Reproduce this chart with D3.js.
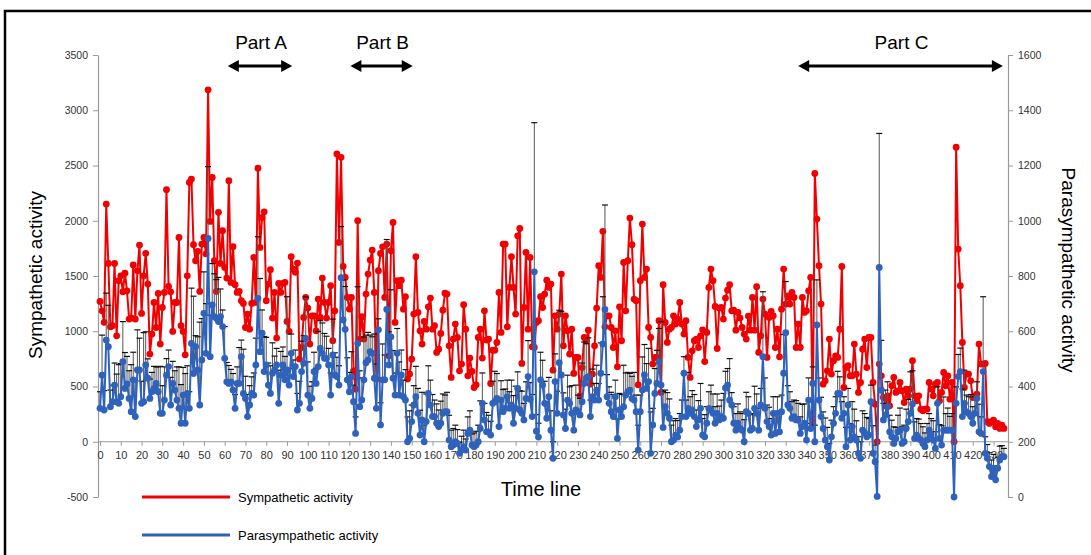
<!DOCTYPE html>
<html>
<head>
<meta charset="utf-8">
<script src="https://cdnjs.cloudflare.com/ajax/libs/d3/7.8.5/d3.min.js"></script>
<style>
body { margin: 0; background: #fff; }
text { font-family: "Liberation Sans", Arial, Helvetica, sans-serif; }
</style>
</head>
<body>
<div id="chartcontainer"></div>
<script>
// Width and height of the page
var width = 1091;
var height = 555;

// Sympathetic activity (left axis), one value per time step
var sympathetic = [
	1270,1185,1081,2151,1614,1040,1050,1614,959,1457,
	1502,1357,1526,1366,1110,1120,1600,1110,1547,1780,
	1161,1502,1705,1427,793,974,1260,1034,1342,884,
	1215,1351,2281,1406,1357,998,1260,1260,1849,1050,
	998,787,1502,2347,2377,1783,1638,1723,1360,1789,
	1849,1700,3185,1994,2392,1638,1360,2076,1614,1910,
	1578,1481,2362,1442,1765,1421,1351,1360,1276,1252,
	1034,1155,
	1019,1252,1668,1261,2476,1759,2030,2081,1276,1427,
	1557,1119,1351,938,1433,1351,1433,1442,1089,998,
	1674,1563,1533,1617,748,853,1125,1306,1210,884,
	1140,1140,1004,1291,1125,1481,1261,1119,1261,1412,
	914,1185,2604,1804,2574,1587,1487,1306,1201,1306,
	642,476,2000,929,1131,929,1336,1517,1644,1735,
	1351,567,1548,1704,1764,1306,1789,778,1729,1985,
	1080,1457,
	1412,1462,1200,1312,567,612,748,1155,1674,1170,
	1004,884,1089,1019,1221,1300,1019,1050,808,838,
	980,1191,1345,1336,868,582,929,1065,944,642,
	703,1240,1019,597,757,636,491,515,944,1019,
	757,1185,920,929,527,829,829,899,1351,989,
	1789,1789,1040,1397,1674,1397,1155,1864,1930,709,
	1215,1713,1019,1668,859,853,1080,1095,1312,1215,
	1336,1462,1397,
	1427,648,1140,1019,1155,1517,868,1140,1004,793,
	1019,618,763,763,416,672,944,914,1010,521,
	612,868,1210,1593,1487,1904,1040,1140,1140,1034,
	853,1004,678,1221,914,1623,1185,1638,2024,1783,
	1291,1276,515,1457,1970,1487,1563,1034,944,703,
	763,763,1095,446,1421,1080,899,1019,1034,1140,
	1065,1110,1261,1065,974,1095,763,582,823,914,
	929,853,
	959,1013,726,989,1397,1563,1457,1225,844,1210,
	1215,1110,1300,1372,1421,1185,1191,1010,1170,1119,
	1034,974,929,1137,1010,1306,1010,1403,808,959,
	1291,1155,763,1125,1179,1140,853,1019,769,1200,
	1563,1246,1321,1246,1351,1306,853,1065,853,1306,
	1170,1185,1366,1487,160,2428,2015,1593,1246,521,
	551,642,929,612,733,778,763,1019,1587,491,
	672,688,
	597,597,884,612,446,536,838,929,672,944,
	944,536,340,0,703,597,400,325,416,325,
	506,582,446,461,536,461,355,476,416,476,
	733,416,370,416,295,280,295,295,536,476,
	416,521,536,370,446,627,506,597,385,536,
	0,2665,1744,1412,899,491,612,612,551,400,
	416,431,884,703,703,709,181,166,181,196,
	136,166,121,151,121
];

// Parasympathetic activity (right axis)
var parasympathetic = [
	321,441,315,568,544,327,345,405,345,339,
	363,490,393,409,357,309,424,291,460,460,
	339,345,478,430,357,381,393,411,381,303,
	303,351,441,472,333,411,387,351,321,267,
	369,267,375,321,556,447,544,460,333,496,
	665,520,936,508,695,653,647,635,653,617,
	502,417,411,417,387,321,411,411,508,375,
	357,291,
	333,375,369,478,719,526,593,454,478,405,
	375,448,460,478,339,442,478,424,460,405,
	520,436,472,315,339,454,484,574,369,321,
	357,454,411,472,538,520,502,502,478,369,
	514,442,436,405,794,641,607,424,381,436,
	345,230,556,327,351,424,486,496,526,520,
	430,321,605,261,424,424,679,478,580,430,
	369,520,
	369,442,363,351,200,212,273,333,363,303,
	224,279,200,273,375,333,291,291,267,255,
	267,303,309,309,206,182,188,200,194,158,
	170,182,170,230,242,188,182,188,200,248,
	339,279,236,236,224,339,345,357,255,351,
	309,321,363,321,333,267,321,393,315,303,
	279,357,436,354,291,815,238,217,424,405,
	339,285,363,
	242,140,418,303,486,442,297,248,351,339,
	303,242,315,309,297,345,411,430,436,291,
	363,351,387,351,448,554,679,363,339,309,
	291,363,212,315,291,327,369,381,387,357,
	351,309,170,309,387,442,393,418,158,261,
	375,411,490,405,252,327,303,285,200,206,
	224,217,242,291,448,291,321,303,315,291,
	255,279,
	321,224,218,267,321,315,303,267,303,279,
	291,285,395,405,351,333,267,242,267,248,
	242,200,309,303,242,248,321,303,242,333,
	508,321,273,255,224,303,230,303,236,309,
	448,595,333,321,285,291,279,279,230,255,
	267,206,351,248,411,200,623,351,291,248,
	206,182,134,218,267,303,375,375,285,303,
	182,333,
	206,255,218,206,158,140,242,232,218,224,
	345,158,128,2,831,387,279,297,327,236,
	218,194,212,236,242,194,200,248,273,303,
	337,212,224,212,206,194,182,206,242,224,
	206,176,339,212,188,242,242,242,242,242,
	0,339,436,454,291,339,309,303,291,267,
	303,357,236,230,454,158,140,110,74,104,
	62,104,134,146,146
];

// upper error of the parasympathetic values
var paraError = [
	60,145,70,170,150,60,60,80,100,140,
	120,145,130,100,100,170,100,130,145,115,
	80,250,120,70,70,70,80,60,90,170,
	100,120,60,60,100,80,70,120,150,140,
	100,180,100,60,200,280,40,120,300,150,
	150,180,260,150,150,155,140,160,100,60,
	115,70,65,45,60,50,60,130,60,160,
	80,80,
	70,60,80,97,223,265,84,127,100,80,
	100,110,50,60,120,85,65,85,265,60,
	70,60,60,60,80,110,100,150,120,80,
	60,70,55,127,100,110,90,80,60,80,
	130,80,70,70,185,145,155,80,70,90,
	60,60,205,130,80,155,100,100,60,60,
	160,160,40,80,130,90,253,120,170,100,
	80,90,
	120,90,60,110,90,100,60,70,110,90,
	90,100,60,100,100,90,80,60,70,60,
	80,70,60,70,90,60,60,60,50,40,
	50,60,40,60,70,40,50,50,60,100,
	110,60,70,60,50,80,110,90,100,70,
	80,70,60,60,90,100,80,60,70,80,
	60,60,130,60,80,540,60,50,100,90,
	80,60,70,
	70,60,100,80,190,230,80,70,90,60,
	100,70,90,60,60,140,150,125,140,60,
	100,60,90,60,110,171,378,80,60,70,
	80,60,70,60,80,150,80,70,60,80,
	100,60,90,60,120,110,90,120,150,60,
	90,120,120,230,130,60,75,70,60,70,
	60,60,60,60,60,60,130,60,70,80,
	60,70,
	90,60,80,60,60,90,70,60,70,50,
	60,90,60,60,150,45,60,60,70,60,
	60,80,70,60,60,50,80,70,80,60,
	235,110,60,70,60,60,80,60,70,60,
	140,185,70,60,60,60,70,60,60,80,
	70,60,80,60,60,60,163,80,70,60,
	80,70,60,60,60,60,80,60,60,60,
	70,60,
	60,90,100,70,60,60,70,70,70,60,
	60,100,60,0,485,180,60,90,90,60,
	60,60,40,60,80,60,60,70,80,150,
	120,60,60,70,60,60,50,60,60,60,
	70,60,60,50,70,120,60,80,50,60,
	0,60,80,85,100,120,60,60,80,60,
	60,60,100,60,271,60,50,50,60,50,
	50,40,50,40,30
];

var leftTicks = [-500, 0, 500, 1000, 1500, 2000, 2500, 3000, 3500];
var rightTicks = [0, 200, 400, 600, 800, 1000, 1200, 1400, 1600];
var timeTicks = d3.range(0, 431, 10);

// the three marked parts of the time line
var partLabels = ["Part A", "Part B", "Part C"];
var partStart = [61.5, 120.5, 336];
var partEnd = [92.5, 150.5, 434.5];

var redColor = "#f00000";
var blueColor = "#2f62bb";

var x = d3.scaleLinear()
			.domain([0, 436])
			.range([100, 1006]);

var yLeft = d3.scaleLinear()
			.domain([-500, 3500])
			.range([497, 55]);

var yRight = d3.scaleLinear()
			.domain([0, 1600])
			.range([497, 55]);

// plain numbers, no thousands separator
var plain = (d) => String(d);

const svg = d3.select("#chartcontainer")
			.append("svg")
			.attr("width", width)
			.attr("height", height);

svg.append("rect")
	.attr("width", width)
	.attr("height", height)
	.attr("fill", "#fff");

// frame around the figure
svg.append("path")
	.attr("d", "M5," + height + "V11H" + width)
	.attr("fill", "none")
	.attr("stroke", "#000")
	.attr("stroke-width", 2.5);

// left axis
var leftAxis = svg.append("g")
	.attr("transform", "translate(98,0)")
	.call(d3.axisLeft(yLeft).tickValues(leftTicks).tickFormat(plain).tickSize(5).tickPadding(5).tickSizeOuter(0));

// right axis
var rightAxis = svg.append("g")
	.attr("transform", "translate(1008,0)")
	.call(d3.axisRight(yRight).tickValues(rightTicks).tickFormat(plain).tickSize(5).tickPadding(5).tickSizeOuter(0));

// time axis, sits on sympathetic 0
var timeAxis = svg.append("g")
	.attr("transform", "translate(0," + yLeft(0) + ")")
	.call(d3.axisBottom(x).tickValues(timeTicks).tickFormat(plain).tickSize(4).tickPadding(5).tickSizeOuter(0));

timeAxis.select(".domain").attr("d", "M98,0H1008");

[leftAxis, rightAxis, timeAxis].forEach(function(a) {
	a.select(".domain").attr("stroke", "#9a9a9a").attr("stroke-width", 1.2);
	a.selectAll(".tick line").attr("stroke", "#9a9a9a");
	a.selectAll(".tick text")
		.attr("fill", "#333")
		.style("font-size", "10.5px");
});
timeAxis.selectAll(".tick text").style("font-size", "11px");

// sympathetic series
var redLine = d3.line()
	.x((d, i) => x(i))
	.y((d) => yLeft(d));

svg.append("path")
	.datum(sympathetic)
	.attr("d", redLine)
	.attr("fill", "none")
	.attr("stroke", redColor)
	.attr("stroke-width", 2);

svg.append("g")
	.selectAll("circle")
	.data(sympathetic)
	.enter()
	.append("circle")
	.attr("cx", (d, i) => x(i))
	.attr("cy", (d) => yLeft(d))
	.attr("r", 3.4)
	.style("fill", redColor);

// error bars of the parasympathetic series
var bars = svg.append("g");

bars.selectAll("line.bar")
	.data(parasympathetic)
	.enter()
	.append("line")
	.attr("class", "bar")
	.attr("x1", (d, i) => x(i))
	.attr("x2", (d, i) => x(i))
	.attr("y1", (d) => yRight(d))
	.attr("y2", (d, i) => yRight(d + paraError[i]))
	.attr("stroke", "#555")
	.attr("stroke-width", 1);

bars.selectAll("line.cap")
	.data(parasympathetic)
	.enter()
	.append("line")
	.attr("class", "cap")
	.attr("x1", (d, i) => x(i) - 3)
	.attr("x2", (d, i) => x(i) + 3)
	.attr("y1", (d, i) => yRight(d + paraError[i]))
	.attr("y2", (d, i) => yRight(d + paraError[i]))
	.attr("stroke", (d, i) => paraError[i] > 0 ? "#111" : "none")
	.attr("stroke-width", 1.2);

// parasympathetic series
var blueLine = d3.line()
	.x((d, i) => x(i))
	.y((d) => yRight(d));

svg.append("path")
	.datum(parasympathetic)
	.attr("d", blueLine)
	.attr("fill", "none")
	.attr("stroke", blueColor)
	.attr("stroke-width", 2);

svg.append("g")
	.selectAll("circle")
	.data(parasympathetic)
	.enter()
	.append("circle")
	.attr("cx", (d, i) => x(i))
	.attr("cy", (d) => yRight(d))
	.attr("r", 3.4)
	.style("fill", blueColor);

// Part A / B / C arrows
var arrowY = 66;
partLabels.forEach(function(label, k) {
	var x0 = x(partStart[k]);
	var x1 = x(partEnd[k]);
	svg.append("line")
		.attr("x1", x0 + 6)
		.attr("x2", x1 - 6)
		.attr("y1", arrowY)
		.attr("y2", arrowY)
		.attr("stroke", "#000")
		.attr("stroke-width", 3);
	svg.append("path")
		.attr("d", "M" + x0 + "," + arrowY + "l11,-6v12z")
		.attr("fill", "#000");
	svg.append("path")
		.attr("d", "M" + x1 + "," + arrowY + "l-11,-6v12z")
		.attr("fill", "#000");
	svg.append("text")
		.attr("x", (x0 + x1) / 2 + 1)
		.attr("y", 49)
		.attr("text-anchor", "middle")
		.style("font-size", "19px")
		.text(label);
});

// axis titles
svg.append("text")
	.attr("transform", "translate(42,275) rotate(-90)")
	.attr("text-anchor", "middle")
	.style("font-size", "19px")
	.text("Sympathetic activity");

svg.append("text")
	.attr("transform", "translate(1062,270) rotate(90)")
	.attr("text-anchor", "middle")
	.style("font-size", "19px")
	.text("Parasympathetic activity");

svg.append("text")
	.attr("x", 541)
	.attr("y", 496)
	.attr("text-anchor", "middle")
	.style("font-size", "20px")
	.text("Time line");

// legend
var legendNames = ["Sympathetic activity", "Parasympathetic activity"];
var legendColors = [redColor, blueColor];
legendNames.forEach(function(name, k) {
	var ly = 497 + k * 38;
	svg.append("line")
		.attr("x1", 142)
		.attr("x2", 230)
		.attr("y1", ly)
		.attr("y2", ly)
		.attr("stroke", legendColors[k])
		.attr("stroke-width", 3);
	svg.append("text")
		.attr("x", 238)
		.attr("y", ly + 5)
		.style("font-size", "13px")
		.text(name);
});
</script>
</body>
</html>
